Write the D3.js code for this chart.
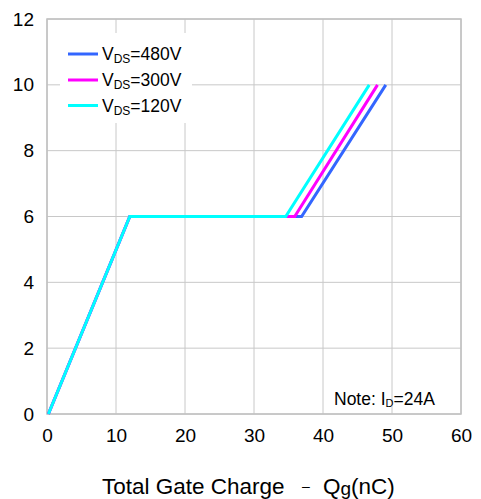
<!DOCTYPE html>
<html><head><meta charset="utf-8">
<script src="https://cdn.jsdelivr.net/npm/d3@7"></script>
<style>body{margin:0;background:#fff;} text{font-family:"Liberation Sans",Arial,sans-serif;}</style>
</head><body><svg id="c" width="481" height="499"></svg>
<script>
const seriesNames = ["480V", "300V", "120V"];
const seriesColors = ["#3366ff", "#ff00ff", "#00ffff"];
const qg480 = [0.2, 12, 36.9, 49.1];
const vgs480 = [0, 6, 6, 10];
const qg300 = [0.2, 12, 35.9, 47.9];
const vgs300 = [0, 6, 6, 10];
const qg120 = [0.2, 12, 34.6, 46.7];
const vgs120 = [0, 6, 6, 10];
const xTicks = [0, 10, 20, 30, 40, 50, 60];
const yTicks = [0, 2, 4, 6, 8, 10, 12];

const svg = d3.select("#c");
const L = 47, R = 461, T = 19, B = 414;
const x = d3.scaleLinear().domain([0, 60]).range([L, R]);
const y = d3.scaleLinear().domain([0, 12]).range([B, T]);
const FF = "Liberation Sans, Arial, sans-serif";

// grid
svg.append("g").selectAll("line").data(xTicks).join("line")
  .attr("x1", d => x(d)).attr("x2", d => x(d)).attr("y1", T).attr("y2", B)
  .attr("stroke", "#c8c8c8").attr("stroke-width", 1);
svg.append("g").selectAll("line").data(yTicks).join("line")
  .attr("y1", d => y(d)).attr("y2", d => y(d)).attr("x1", L).attr("x2", R)
  .attr("stroke", "#c8c8c8").attr("stroke-width", 1);

// axes labels via d3 axes
const xa = svg.append("g").attr("transform", `translate(0,${B})`)
  .call(d3.axisBottom(x).tickValues(xTicks).tickSize(0).tickPadding(14.5));
xa.select(".domain").remove();
xa.selectAll("text").attr("font-size", 19).attr("fill", "#000").attr("font-family", FF);
const ya = svg.append("g").attr("transform", `translate(${L},0)`)
  .call(d3.axisLeft(y).tickValues(yTicks).tickSize(0).tickPadding(13));
ya.select(".domain").remove();
ya.selectAll("text").attr("font-size", 19).attr("fill", "#000").attr("font-family", FF);

// border
svg.append("rect").attr("x", L).attr("y", T).attr("width", R - L).attr("height", B - T)
  .attr("fill", "none").attr("stroke", "#c0c0c0").attr("stroke-width", 1.5);

// legend bg
svg.append("rect").attr("x", 60).attr("y", 33).attr("width", 132).attr("height", 90).attr("fill", "#fff");

// lines
const data = [
  {q: qg480, v: vgs480},
  {q: qg300, v: vgs300},
  {q: qg120, v: vgs120}
];
const line = d3.line().x(d => x(d[0])).y(d => y(d[1]));
data.forEach((s, i) => {
  svg.append("path").datum(s.q.map((q, j) => [q, s.v[j]]))
    .attr("d", line).attr("fill", "none").attr("stroke", seriesColors[i])
    .attr("stroke-width", 3).attr("stroke-linejoin", "miter");
});

// legend
const legY = [54, 80, 105.5];
seriesNames.forEach((n, i) => {
  const ly = legY[i];
  svg.append("line").attr("x1", 68).attr("x2", 98).attr("y1", ly).attr("y2", ly)
    .attr("stroke", seriesColors[i]).attr("stroke-width", 3);
  const t = svg.append("text").attr("x", 102).attr("y", ly + 6).attr("font-size", 17.5).attr("fill", "#000");
  t.append("tspan").text("V");
  t.append("tspan").attr("font-size", 12).attr("dy", 3).text("DS");
  t.append("tspan").attr("dy", -3).text("=" + n);
});

// note
const nt = svg.append("text").attr("x", 334).attr("y", 405).attr("font-size", 17.5).attr("fill", "#000");
nt.append("tspan").text("Note: I");
nt.append("tspan").attr("font-size", 11).attr("dy", 2).text("D");
nt.append("tspan").attr("dy", -2).text("=24A");

// axis title
const at = svg.append("text").attr("x", 102).attr("y", 494).attr("font-size", 22.5).attr("fill", "#000");
at.append("tspan").text("Total Gate Charge");
at.append("tspan").attr("x", 302).attr("dy", -3).attr("font-size", 14).text("–");
at.append("tspan").attr("x", 323).attr("dy", 3).text("Q");
at.append("tspan").attr("font-size", 19).attr("dy", 1).text("g");
at.append("tspan").attr("dy", -1).text("(nC)");
</script></body></html>
